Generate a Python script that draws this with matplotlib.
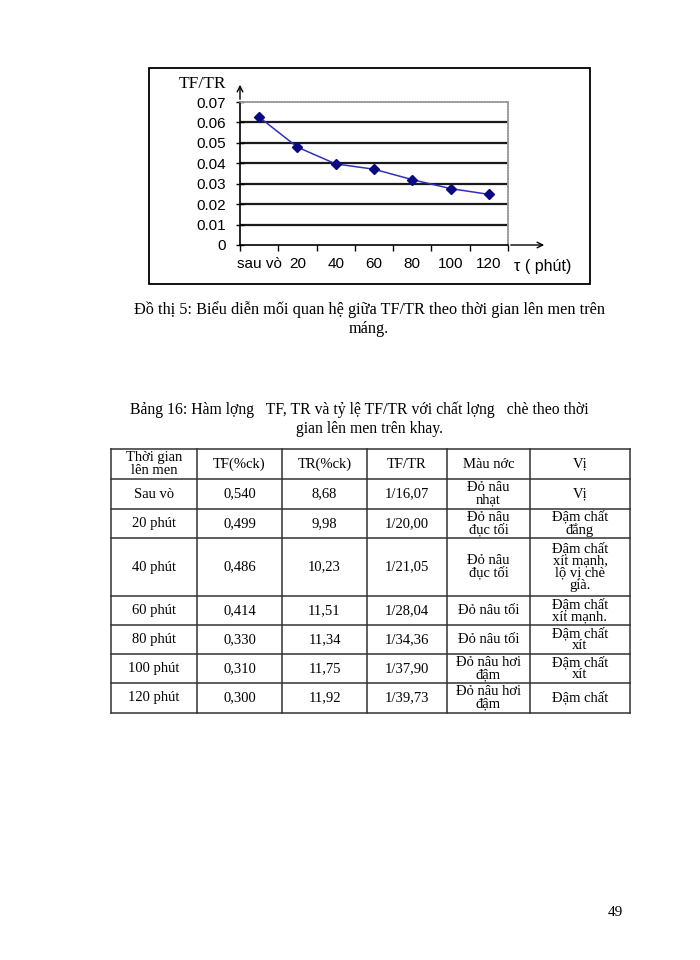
import numpy as np
import matplotlib
matplotlib.use("Agg")
import matplotlib.pyplot as plt
from matplotlib.patches import Rectangle

# du lieu bieu do (doc tu hinh)
nhan_x = ["sau vò", "20", "40", "60", "80", "100", "120"]
tf_tr = [0.0626, 0.0479, 0.0397, 0.0371, 0.0320, 0.0276, 0.0248]
y_ticks = [0, 0.01, 0.02, 0.03, 0.04, 0.05, 0.06, 0.07]
y_nhan = ["0", "0.01", "0.02", "0.03", "0.04", "0.05", "0.06", "0.07"]

# du lieu bang 16
tieu_de = ["Thời gian\nlên men", "TF(%ck)", "TR(%ck)", "TF/TR", "Màu nớc", "Vị"]
thoi_gian = ["Sau vò", "20 phút", "40 phút", "60 phút", "80 phút", "100 phút", "120 phút"]
tf = ["0,540", "0,499", "0,486", "0,414", "0,330", "0,310", "0,300"]
tr = ["8,68", "9,98", "10,23", "11,51", "11,34", "11,75", "11,92"]
ty_le = ["1/16,07", "1/20,00", "1/21,05", "1/28,04", "1/34,36", "1/37,90", "1/39,73"]
mau_nuoc = ["Đỏ nâu\nnhạt", "Đỏ nâu\nđục tối", "Đỏ nâu\nđục tối", "Đỏ nâu tối",
            "Đỏ nâu tối", "Đỏ nâu hơi\nđậm", "Đỏ nâu hơi\nđậm"]
vi = ["Vị", "Đậm chất\nđắng", "Đậm chất\nxít mạnh,\nlộ vị chè\ngià.", "Đậm chất\nxít mạnh.",
      "Đậm chất\nxít", "Đậm chất\nxít", "Đậm chất"]

W, H = 700, 960
serif = ["Liberation Serif", "DejaVu Serif"]
sans = ["Liberation Sans", "DejaVu Sans"]

fig = plt.figure(figsize=(W / 100, H / 100), dpi=100)
fig.patch.set_facecolor("white")

# trang giay, toa do pixel
page = fig.add_axes([0, 0, 1, 1])
page.set_xlim(0, W)
page.set_ylim(H, 0)
page.axis("off")

# khung bieu do
page.add_patch(Rectangle((149, 68), 441, 216, fill=False, ec="black", lw=1.3))

# vung ve
x0, x1, yb, yt = 240, 508, 245, 102
ax = fig.add_axes([x0 / W, 1 - yb / H, (x1 - x0) / W, (yb - yt) / H])
ax.set_facecolor("white")
xs = np.arange(len(tf_tr))
ax.set_xlim(-0.5, len(tf_tr) - 0.5)
ax.set_ylim(0, 0.07)
for v in y_ticks[1:-1]:
    ax.axhline(v, color="#1a1a1a", lw=1.6, zorder=1)
ax.plot(xs, tf_tr, color="#3030c0", lw=1.1, marker="D", ms=5.5,
        mfc="#0a0a80", mec="#0a0a80", zorder=3)

for s in ["top", "right"]:
    ax.spines[s].set_color("#999999")
    ax.spines[s].set_linestyle((0, (1, 0.6)))
    ax.spines[s].set_linewidth(1.2)
for s in ["left", "bottom"]:
    ax.spines[s].set_color("black")
    ax.spines[s].set_linewidth(1.2)

ax.set_yticks(y_ticks)
ax.set_yticklabels(y_nhan, family=sans, fontsize=11)
ax.tick_params(axis="y", direction="inout", length=6, width=1, pad=7)
ax.set_xticks(np.arange(len(tf_tr) + 1) - 0.5)
ax.set_xticklabels([])
ax.tick_params(axis="x", direction="out", length=4, width=1)
ax.set_xticks(xs, minor=True)
ax.set_xticklabels(nhan_x, minor=True, family=sans, fontsize=11)
ax.tick_params(axis="x", which="minor", length=0, pad=9)

ax.annotate("", xy=(0, 1 + 20 / 143), xytext=(0, 1), xycoords="axes fraction",
            arrowprops=dict(arrowstyle="->", lw=1, color="black"))
ax.annotate("", xy=(1 + 39 / 268, 0), xytext=(1, 0), xycoords="axes fraction",
            arrowprops=dict(arrowstyle="->", lw=1, color="black"))

page.text(226, 84, "TF/TR", ha="right", va="center", family=serif, fontsize=12.5)
page.text(514, 266, "τ ( phút)", ha="left", va="center", family=sans, fontsize=11.5)

# chu thich
page.text(369, 310, "Đồ thị 5: Biểu diễn mối quan hệ giữa TF/TR theo thời gian lên men trên",
          ha="center", va="center", family=serif, fontsize=11.7)
page.text(369, 329, "máng.", ha="center", va="center", family=serif, fontsize=11.7)

page.text(359, 410, "Bảng 16: Hàm lợng   TF, TR và tỷ lệ TF/TR với chất lợng   chè theo thời",
          ha="center", va="center", family=serif, fontsize=11.3)
page.text(369, 429, "gian lên men trên khay.", ha="center", va="center",
          family=serif, fontsize=11.3)

# bang
cot = [111, 197, 282, 367, 447, 530, 630]
hang = [449, 479, 509, 538, 596, 625, 654, 683, 713]
for c in cot:
    page.plot([c, c], [hang[0], hang[-1]], color="#333333", lw=1.1)
for r in hang:
    page.plot([cot[0], cot[-1]], [r, r], color="#333333", lw=1.1)

cac_cot = [thoi_gian, tf, tr, ty_le, mau_nuoc, vi]
for j, txt in enumerate(tieu_de):
    cx = (cot[j] + cot[j + 1]) / 2
    cy = (hang[0] + hang[1]) / 2
    page.text(cx, cy, txt, ha="center", va="center", family=serif,
              fontsize=10.5, linespacing=0.9)
for i in range(len(thoi_gian)):
    cy = (hang[i + 1] + hang[i + 2]) / 2
    for j, col in enumerate(cac_cot):
        cx = (cot[j] + cot[j + 1]) / 2
        page.text(cx, cy, col[i], ha="center", va="center", family=serif,
                  fontsize=10.5, linespacing=0.92)

page.text(615, 912, "49", ha="center", va="center", family=serif, fontsize=11)

fig.savefig("out.png", dpi=100, facecolor="white")
